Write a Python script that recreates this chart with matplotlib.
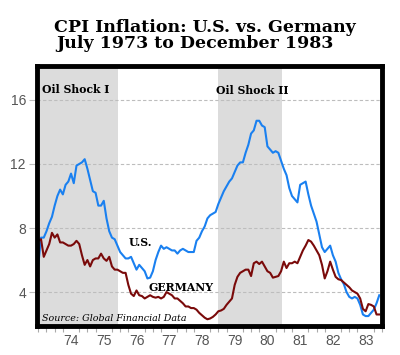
import numpy as np
import matplotlib
matplotlib.use("Agg")
import matplotlib.pyplot as plt
from matplotlib.ticker import FixedLocator, MultipleLocator

# ---- data: monthly CPI inflation, Jul 1973 .. Dec 1983 ----
start_year = 1973.5  # July 1973
us = [5.7, 7.4, 7.4, 7.8, 8.3, 8.7, 9.4, 10.0, 10.4, 10.1, 10.7, 10.9,
      11.4, 10.8, 11.9, 12.0, 12.1, 12.3, 11.7, 11.0, 10.3, 10.2, 9.4, 9.4,
      9.7, 8.6, 7.8, 7.4, 7.3, 6.9, 6.5, 6.3, 6.1, 6.1, 6.2, 5.8,
      5.4, 5.7, 5.5, 5.3, 4.85, 4.9, 5.3, 6.0, 6.5, 6.9, 6.7, 6.8,
      6.7, 6.6, 6.6, 6.4, 6.6, 6.7, 6.6, 6.5, 6.5, 6.5, 7.2, 7.4,
      7.8, 8.1, 8.6, 8.8, 8.9, 9.0, 9.5, 9.9, 10.3, 10.6, 10.9, 11.1,
      11.5, 11.9, 12.1, 12.1, 12.7, 13.2, 13.9, 14.1, 14.7, 14.7, 14.4, 14.3,
      13.1, 12.9, 12.7, 12.8, 12.7, 12.2, 11.7, 11.3, 10.5, 10.0, 9.8, 9.6,
      10.7, 10.8, 10.9, 10.1, 9.4, 8.9, 8.4, 7.6, 6.8, 6.5, 6.7, 6.9,
      6.3, 5.9, 5.2, 4.8, 4.5, 4.0, 3.7, 3.6, 3.7, 3.6, 3.2, 2.6,
      2.5, 2.5, 2.7, 2.9, 3.3, 3.8]
germany = [7.2, 7.3, 6.2, 6.6, 7.0, 7.7, 7.4, 7.6, 7.1, 7.1, 7.0, 6.9,
           6.9, 7.0, 7.2, 7.0, 6.3, 5.7, 6.0, 5.6, 6.0, 6.1, 6.1, 6.4,
           6.1, 5.95, 6.2, 5.6, 5.4, 5.4, 5.3, 5.2, 5.2, 4.45, 3.9, 3.75,
           4.1, 3.8, 3.75, 3.6, 3.7, 3.8, 3.7, 3.65, 3.7, 3.6, 3.7, 4.0,
           3.9, 3.8, 3.6, 3.6, 3.45, 3.3, 3.1, 3.1, 3.0, 3.0, 2.9, 2.7,
           2.55, 2.4, 2.3, 2.35, 2.45, 2.6, 2.8, 2.85, 2.95, 3.2, 3.4, 3.6,
           4.45, 4.95, 5.2, 5.3, 5.4, 5.4, 5.0, 5.8, 5.9, 5.75, 5.9, 5.6,
           5.3, 5.2, 4.9, 4.95, 5.0, 5.3, 5.9, 5.5, 5.8, 5.8, 5.9, 5.8,
           6.2, 6.6, 6.9, 7.25, 7.15, 6.9, 6.6, 6.3, 5.7, 4.85, 5.3, 5.9,
           5.4, 4.95, 4.8, 4.75, 4.6, 4.45, 4.3, 4.1, 4.0, 3.9, 3.6, 2.95,
           2.8, 3.25, 3.2, 3.1, 2.6, 2.6]
shock_periods = [(1973.4, 1975.93), (1979.0, 1980.95)]
shock_labels = ["Oil Shock I", "Oil Shock II"]
year_labels = ["74", "75", "76", "77", "78", "79", "80", "81", "82", "83"]
year_label_pos = [1974.5 + i for i in range(len(year_labels))]
y_ticks = [4, 8, 12, 16]

t = start_year + np.arange(len(us)) / 12.0

fig = plt.figure(figsize=(4.0, 3.55), dpi=100)
ax = fig.add_axes([37/400, 1 - 326/355, (382-37)/400, (326-66)/355])

for (a, b) in shock_periods:
    ax.axvspan(a, b, color="#dcdcdc", lw=0, zorder=0)

ax.plot(t, us, color="#1a80f0", lw=1.5, zorder=3, solid_joinstyle="round")
ax.plot(t, germany, color="#7a0a0a", lw=1.5, zorder=3, solid_joinstyle="round")

ax.set_xlim(1973.46, 1984.0)
ax.set_ylim(1.88, 18.12)

sans = ["Liberation Sans", "DejaVu Sans"]
ax.yaxis.set_major_locator(FixedLocator(y_ticks))
ax.set_yticklabels([str(v) for v in y_ticks], family=sans)
ax.grid(axis="y", color="#bdbdbd", linestyle=(0, (3, 2)), lw=0.8, zorder=1)
ax.tick_params(axis="y", length=6, width=0.8, color="#bdbdbd", pad=2,
               labelsize=10, labelcolor="#555555")

ax.xaxis.set_major_locator(FixedLocator(year_label_pos))
ax.set_xticklabels(year_labels, family=sans)
ax.xaxis.set_minor_locator(MultipleLocator(0.25))
ax.tick_params(axis="x", which="major", length=0, pad=6,
               labelsize=10, labelcolor="#555555")
ax.tick_params(axis="x", which="minor", length=4, width=0.8, color="#aaaaaa")

for s in ax.spines.values():
    s.set_linewidth(3.5)
    s.set_color("black")
    s.set_zorder(5)

serif = ["DejaVu Serif"]
fig.text(0.513, 1 - 27/355, "CPI Inflation: U.S. vs. Germany", ha="center", va="center",
         fontsize=12.5, fontweight="bold", family=serif)
fig.text(0.488, 1 - 44/355, "July 1973 to December 1983", ha="center", va="center",
         fontsize=12.5, fontweight="bold", family=serif)

lab = dict(fontsize=7.8, fontweight="bold", family=serif, zorder=4, va="center", ha="left")
ax.text(1973.6, 16.65, shock_labels[0], **lab)
ax.text(1978.92, 16.6, shock_labels[1], **lab)
ax.text(1976.27, 7.1, "U.S.", **lab)
ax.text(1976.86, 4.3, "GERMANY", **lab)
ax.text(1973.6, 2.35, "Source: Global Financial Data", ha="left", va="center",
        fontsize=6.8, style="italic", family=serif, zorder=4)

fig.savefig("out.png", dpi=100)
